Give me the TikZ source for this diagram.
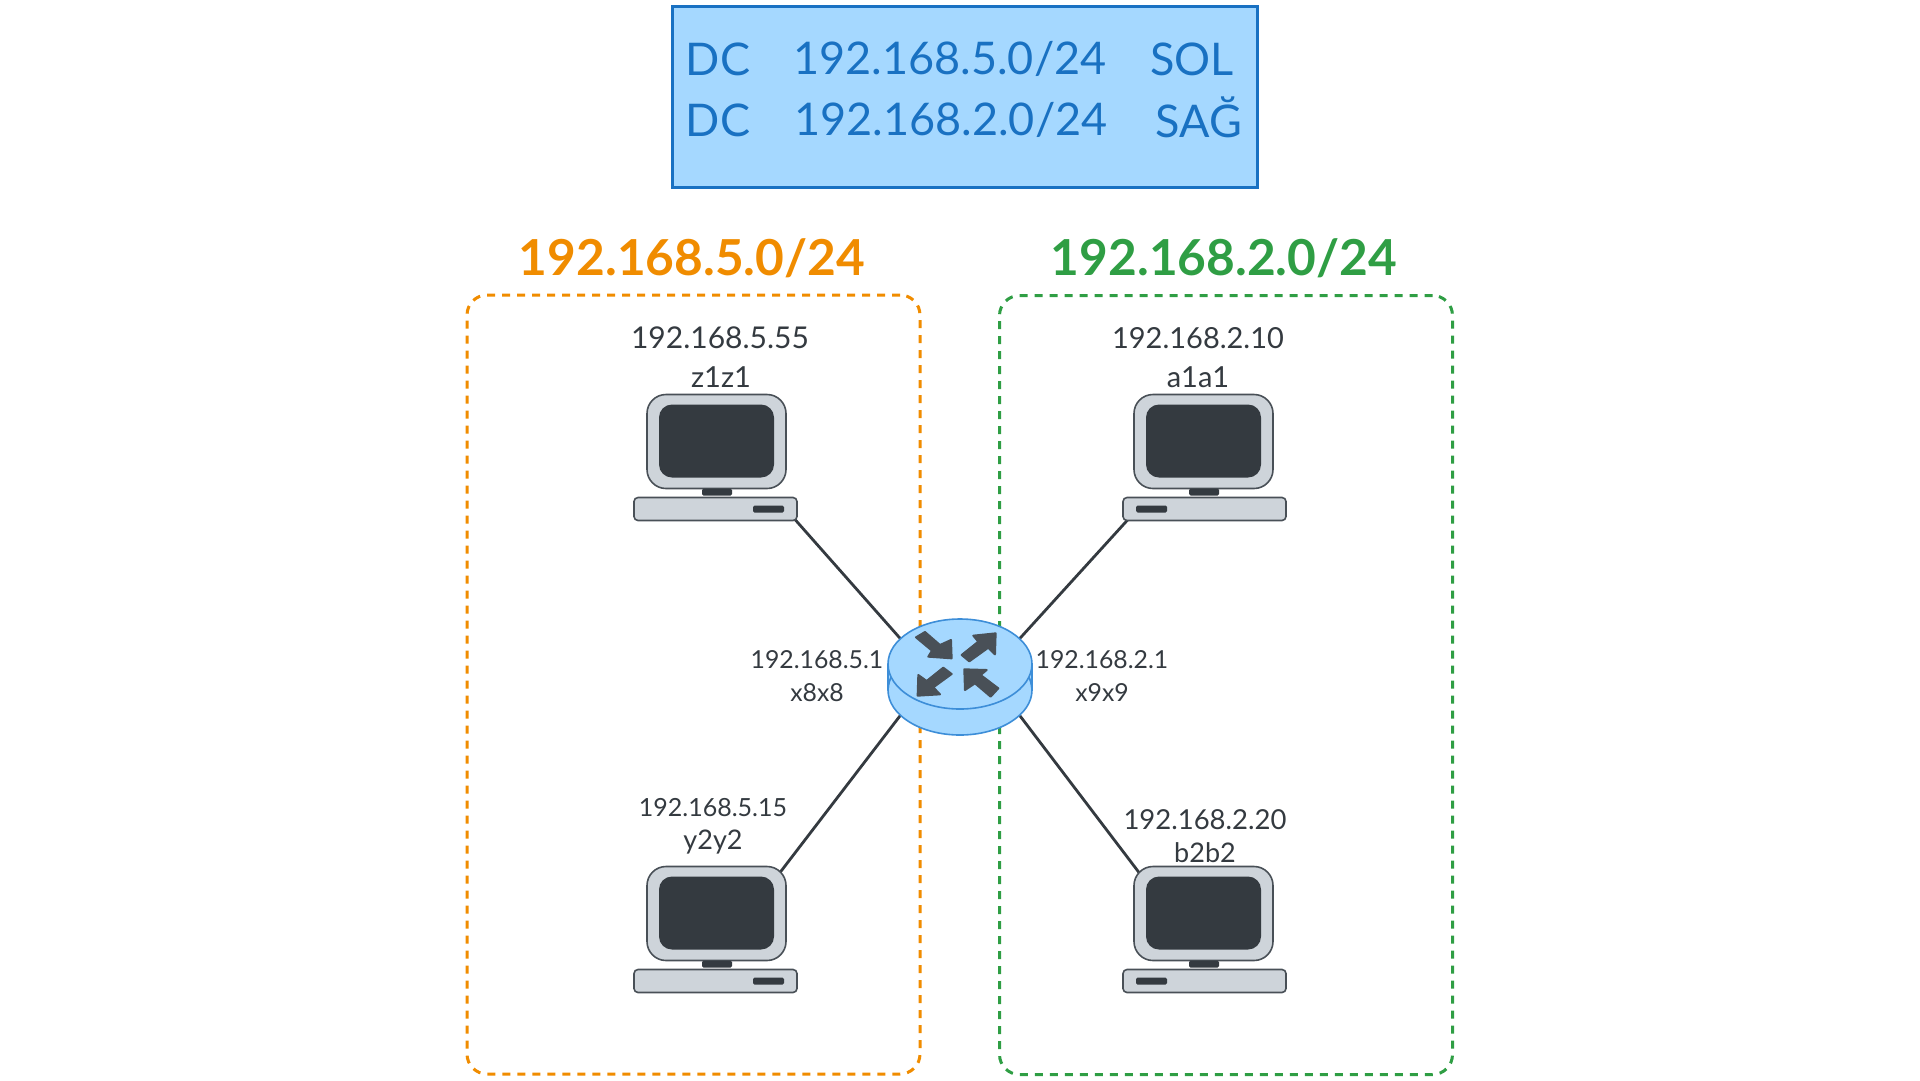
\documentclass[tikz,border=0pt]{standalone}
\usepackage{fontspec}
\setmainfont{Lato}
\usetikzlibrary{shapes.geometric,backgrounds}
\definecolor{ink}{HTML}{343A40}
\definecolor{slate}{HTML}{495057}
\definecolor{panel}{HTML}{CED4DA}
\definecolor{skyfill}{HTML}{A5D8FF}
\definecolor{skyline}{HTML}{1971C2}
\definecolor{routerline}{HTML}{3D8ED8}
\definecolor{lanorange}{HTML}{F08C00}
\definecolor{langreen}{HTML}{2F9E44}
\newcommand{\fsz}[1]{\fontsize{#1}{#1}\selectfont}
\tikzset{
  x=1pt, y=-1pt,
  every node/.style={inner sep=0pt, outer sep=0pt},
  lanzone/.style={draw, line width=3pt, rounded corners=20pt, dash pattern=on 8pt off 7pt,
    minimum width=453pt, minimum height=779pt},
  link/.style={draw=ink, line width=2.8pt},
  hosttext/.style={text=ink, font=\fsz{#1}},
  hosttext/.default=29,
  routertext/.style={text=ink, font=\fsz{24.8}},
  headtext/.style={text=skyline, font=\fsz{45}},
  zonetitle/.style={font=\bfseries\fsz{49.6}},
  flow/.style={fill=slate, draw=slate, line width=2pt, line join=round},
  monitorbox/.style={draw=slate, fill=panel, line width=1.6pt, rounded corners=19pt,
    minimum width=139pt, minimum height=94pt},
  screenbox/.style={fill=ink, rounded corners=13pt, minimum width=115pt, minimum height=73pt},
  neckbox/.style={fill=ink, rounded corners=1.5pt, minimum width=30pt, minimum height=7pt},
  basebox/.style={draw=slate, fill=panel, line width=1.6pt, rounded corners=4pt,
    minimum width=163pt, minimum height=23pt},
  slotbox/.style={fill=ink, rounded corners=1.5pt, minimum width=31pt, minimum height=7pt},
  pics/computer/.style={code={
    \node[monitorbox] (-mon) at (0,0) {};
    \node[screenbox] (-scr) at (0,-0.5) {};
    \node[neckbox] (-neck) at (0.5,50.5) {};
    \node[basebox] (-base) at (-1,67.5) {};
    \node[slotbox] (-slot) at (52,67.5) {};
    \coordinate (-portse) at (78.5,78);
    \coordinate (-portne) at (63.5,-41);
  }},
  pics/computerflip/.style={code={
    \node[monitorbox] (-mon) at (0,0) {};
    \node[screenbox] (-scr) at (0,-0.5) {};
    \node[neckbox] (-neck) at (0.5,50.5) {};
    \node[basebox] (-base) at (1,67.5) {};
    \node[slotbox] (-slot) at (-52,67.5) {};
    \coordinate (-portsw) at (-75.5,78);
    \coordinate (-portnw) at (-64.5,-41);
  }},
}
\begin{document}
\begin{tikzpicture}
\useasboundingbox (0,0) rectangle (1920,1080);

% routing table banner
\node[draw=skyline, fill=skyfill, line width=3pt, minimum width=585pt, minimum height=181pt] (table) at (965,96.5) {};
\node[headtext] (dc1) at (718,59) {DC};
\node[headtext] (net1) at (950,59) {192.168.5.0/24};
\node[headtext] (side1) at (1192,59) {SOL};
\node[headtext] (dc2) at (718,120) {DC};
\node[headtext] (net2) at (951,120) {192.168.2.0/24};
\node[headtext] (side2) at (1199,117) {SAĞ};

% subnet zones
\node[lanzone, draw=lanorange] (zoneL) at (693.5,684.5) {};
\node[lanzone, draw=langreen] (zoneR) at (1226,685) {};
\node[zonetitle, text=lanorange] (titleL) at (692,258) {192.168.5.0/24};
\node[zonetitle, text=langreen] (titleR) at (1224,258) {192.168.2.0/24};

% hosts
\pic (z1) at (716.5,441.5) {computer};
\pic (a1) at (1203.5,441.5) {computerflip};
\pic (y2) at (716.5,913.5) {computer};
\pic (b2) at (1203.5,913.5) {computerflip};

% router
\node[ellipse, draw=routerline, fill=skyfill, line width=1.6pt, minimum width=144pt, minimum height=90pt] (rb) at (960,690) {};
\path[fill=skyfill, draw=routerline, line width=1.6pt] (888,664) -- (888,690)
  arc[start angle=180, end angle=360, x radius=72pt, y radius=-45pt] -- (1032,664);
\node[ellipse, draw=routerline, fill=skyfill, line width=1.6pt, minimum width=144pt, minimum height=90pt] (rt) at (960,664) {};
\begin{scope}[shift={(730,600)}, x=0.3333pt, y=-0.3333pt]
  \path[flow] (558,112) -- (585,96) -- (630,135) -- (663,120) -- (665,175) -- (595,170) -- (606,152) -- cycle;
  \path[flow] (695,165) -- (745,125) -- (730,107) -- (797,100) -- (795,163) -- (775,143) -- (718,184) -- cycle;
  \path[flow] (665,222) -- (640,203) -- (590,243) -- (565,225) -- (563,287) -- (630,283) -- (610,262) -- cycle;
  \path[flow] (805,265) -- (782,290) -- (735,250) -- (705,270) -- (703,208) -- (770,210) -- (752,225) -- cycle;
\end{scope}

% links between router and hosts
\begin{scope}[on background layer]
  \draw[link] (z1-portse) -- (rt.157);
  \draw[link] (a1-portsw) -- (rt.23);
  \draw[link] (y2-portne) -- (rb.203);
  \draw[link] (b2-portnw) -- (rb.337);
\end{scope}

% host and interface labels
\node[hosttext=30] (z1ip) at (720,338) {192.168.5.55};
\node[hosttext] (z1name) at (721,377) {z1z1};
\node[hosttext] (a1ip) at (1198,338) {192.168.2.10};
\node[hosttext] (a1name) at (1198,377) {a1a1};
\node[hosttext=25] (y2ip) at (713,808) {192.168.5.15};
\node[hosttext=27] (y2name) at (713,842) {y2y2};
\node[hosttext=27.5] (b2ip) at (1205,820) {192.168.2.20};
\node[hosttext=27] (b2name) at (1205,853) {b2b2};
\node[routertext] (r1ip) at (817,660) {192.168.5.1};
\node[routertext] (r1name) at (817,693) {x8x8};
\node[routertext] (r2ip) at (1102,660) {192.168.2.1};
\node[routertext] (r2name) at (1102,693) {x9x9};
\end{tikzpicture}
\end{document}
